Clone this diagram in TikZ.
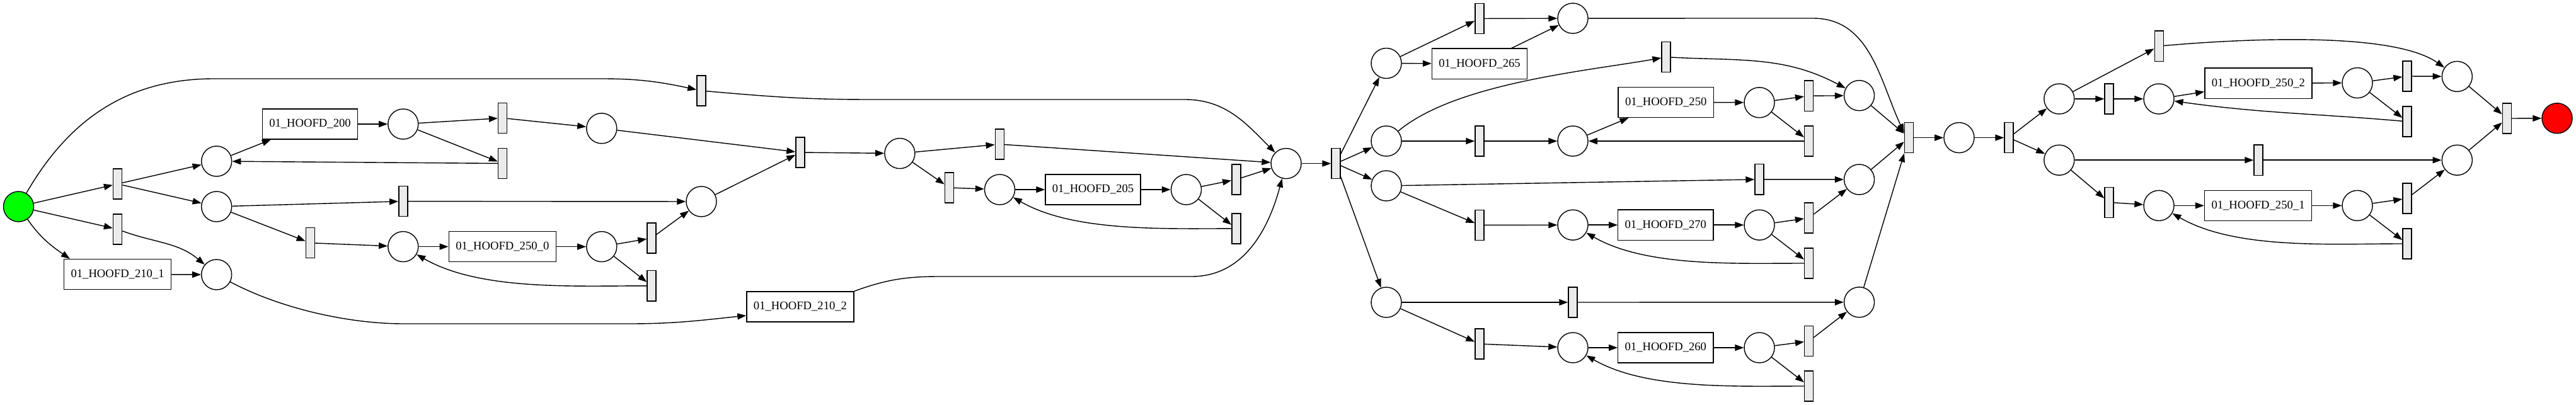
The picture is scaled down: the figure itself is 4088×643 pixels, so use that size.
\documentclass[tikz,border=0pt]{standalone}
\usepackage{fontspec}
\setmainfont{Liberation Serif}
\usetikzlibrary{arrows.meta}
\definecolor{srcgreen}{HTML}{00FF00}
\definecolor{snkred}{HTML}{FF0000}
\definecolor{trgrey}{HTML}{EBEBEB}
\tikzset{
  place/.style = {draw, circle, minimum size=4.8mm, inner sep=0pt, line width=0.4pt},
  trans/.style = {draw, fill=trgrey, minimum width=1.4mm, minimum height=4.8mm,
                  inner sep=0pt, line width=0.4pt},
  task/.style  = {draw, fill=white, minimum width=15.1mm, minimum height=4.8mm, inner sep=0pt,
                  line width=0.4pt, font=\fontsize{5.3}{6}\selectfont},
  wtask/.style = {task, minimum width=17mm},
  arc/.style   = {-{Triangle[length=1.4mm,width=1mm]}, line width=0.4pt},
}
\begin{document}
\begin{tikzpicture}[x=0.01cm, y=0.01cm]
  \useasboundingbox (0,0) rectangle (4088,-643);
  \node[place, fill=srcgreen] (src) at (29.5,-328) {};
  \node[trans] (t1) at (186.6,-292) {};
  \node[trans] (t2) at (186.6,-364) {};
  \node[wtask] (h2101) at (186.6,-435.7) {01\_HOOFD\_210\_1};
  \node[place] (p1) at (343.7,-256) {};
  \node[place] (p2) at (343.7,-328) {};
  \node[place] (p3) at (343.7,-436) {};
  \node[task] (h200) at (492,-197) {01\_HOOFD\_200};
  \node[place] (p4) at (639.8,-197) {};
  \node[trans] (t3) at (797.6,-187.4) {};
  \node[trans] (t4) at (797.6,-259.5) {};
  \node[place] (p5) at (954.8,-203.8) {};
  \node[trans] (t5) at (639.8,-319.6) {};
  \node[trans] (t6) at (492.4,-385.7) {};
  \node[place] (p6) at (639.8,-391.6) {};
  \node[wtask] (h2500) at (797.3,-391.6) {01\_HOOFD\_250\_0};
  \node[place] (p7) at (954.8,-391.6) {};
  \node[trans] (t7) at (1034,-378) {};
  \node[trans] (t8) at (1034,-453.8) {};
  \node[place] (p8) at (1113,-320) {};
  \node[trans] (t9) at (1113,-144) {};
  \node[trans] (t10) at (1270,-242) {};
  \node[wtask] (h2102) at (1270,-487) {01\_HOOFD\_210\_2};
  \node[place] (p9) at (1427.9,-243.6) {};
  \node[trans] (t11) at (1586.3,-229) {};
  \node[trans] (t12) at (1506.5,-298) {};
  \node[place] (p10) at (1586.5,-301) {};
  \node[task] (h205) at (1734.5,-301) {01\_HOOFD\_205};
  \node[place] (p11) at (1882.5,-301) {};
  \node[trans] (t13) at (1961.8,-285) {};
  \node[trans] (t14) at (1961.8,-362.9) {};
  \node[place] (p12) at (2041,-259.6) {};
  \node[trans] (t15) at (2120,-259.6) {};
  \node[place] (p13) at (2200,-100.5) {};
  \node[place] (p14) at (2200,-224) {};
  \node[place] (p15) at (2200,-295) {};
  \node[place] (p16) at (2200,-480) {};
  \node[trans] (t16) at (2347.8,-29.5) {};
  \node[task] (h265) at (2348,-101.2) {01\_HOOFD\_265};
  \node[place] (p17) at (2496,-29.1) {};
  \node[trans] (t17) at (2644,-90.6) {};
  \node[trans] (t18) at (2348,-224) {};
  \node[place] (p18) at (2496,-224) {};
  \node[task] (h250) at (2643.7,-162.4) {01\_HOOFD\_250};
  \node[place] (p19) at (2792,-162.8) {};
  \node[trans] (t19) at (2870.6,-152.2) {};
  \node[trans] (t20) at (2870.6,-224) {};
  \node[place] (p20) at (2950.5,-151.7) {};
  \node[trans] (t21) at (2792,-284.8) {};
  \node[place] (p21) at (2950.5,-285) {};
  \node[trans] (t22) at (2348,-357.4) {};
  \node[place] (p22) at (2496,-357.2) {};
  \node[task] (h270) at (2643.3,-357.2) {01\_HOOFD\_270};
  \node[place] (p23) at (2792,-357.2) {};
  \node[trans] (t23) at (2870.6,-346) {};
  \node[trans] (t24) at (2870.6,-418) {};
  \node[trans] (t25) at (2496,-480) {};
  \node[place] (p24) at (2950.5,-479.8) {};
  \node[trans] (t26) at (2348,-546) {};
  \node[place] (p25) at (2496,-552) {};
  \node[task] (h260) at (2643.3,-552) {01\_HOOFD\_260};
  \node[place] (p26) at (2792,-552) {};
  \node[trans] (t27) at (2870.6,-541.7) {};
  \node[trans] (t28) at (2870.6,-613) {};
  \node[trans] (t29) at (3029.4,-218.6) {};
  \node[place] (p27) at (3108.9,-218.6) {};
  \node[trans] (t30) at (3188,-218.6) {};
  \node[place] (p28) at (3267.8,-157) {};
  \node[place] (p29) at (3267.8,-254.2) {};
  \node[trans] (t31) at (3426.2,-73.2) {};
  \node[trans] (t32) at (3347,-157) {};
  \node[place] (p30) at (3426,-157) {};
  \node[wtask] (h2502) at (3583.9,-132.2) {01\_HOOFD\_250\_2};
  \node[place] (p31) at (3741,-131.6) {};
  \node[trans] (t33) at (3820,-121) {};
  \node[trans] (t34) at (3820,-193) {};
  \node[place] (p32) at (3899.3,-121.4) {};
  \node[trans] (t35) at (3978.4,-188) {};
  \node[place, fill=snkred] (snk) at (4058,-187.8) {};
  \node[trans] (t36) at (3584,-254.2) {};
  \node[place] (p33) at (3899.3,-254.2) {};
  \node[trans] (t37) at (3347,-321.3) {};
  \node[place] (p34) at (3426,-326.4) {};
  \node[wtask] (h2501) at (3583.5,-326.4) {01\_HOOFD\_250\_1};
  \node[place] (p35) at (3741,-326.4) {};
  \node[trans] (t38) at (3820,-315) {};
  \node[trans] (t39) at (3820,-387) {};
  \draw[arc] (src) -- (t1);
  \draw[arc] (src) -- (t2);
  \draw[arc] (src) to[out=-55,in=145] ([xshift=1mm]h2101.north west);
  \draw[arc] (src) to[out=60,in=180] (340,-125) -- (955,-125) to[out=0,in=168] (t9);
  \draw[arc] (t1) -- (p1);
  \draw[arc] (t1) -- (p2);
  \draw[arc] (t2) to[out=-20,in=140] (p3);
  \draw[arc] (h2101) -- (p3);
  \draw[arc] (p1) -- (h200);
  \draw[arc] (h200) -- (p4);
  \draw[arc] (p4) -- (t3);
  \draw[arc] (p4) -- (t4);
  \draw[arc] (t3) -- (p5);
  \draw[arc] (t4) -- (p1);
  \draw[arc] (p5) -- (t10);
  \draw[arc] (p2) -- (t5);
  \draw[arc] (t5) -- (p8);
  \draw[arc] (p2) -- (t6);
  \draw[arc] (t6) -- (p6);
  \draw[arc] (p6) -- (h2500);
  \draw[arc] (h2500) -- (p7);
  \draw[arc] (p7) -- (t7);
  \draw[arc] (p7) -- (t8);
  \draw[arc] (t7) -- (p8);
  \draw[arc] (t8) to[out=180,in=-30,looseness=0.8] (p6);
  \draw[arc] (p3) to[out=-28,in=180,looseness=0.8] (640,-514) -- (1000,-514)
    to[out=0,in=186] ([yshift=-1.4mm]h2102.west);
  \draw[arc] (h2102.north east) to[out=20,in=180] (1491,-439) -- (1891,-439)
    to[out=0,in=-105] (p12);
  \draw[arc] (t9) to[out=-5,in=180] (1380,-158) -- (1880,-158) to[out=0,in=135] (p12);
  \draw[arc] (p8) -- (t10);
  \draw[arc] (t10) -- (p9);
  \draw[arc] (p9) -- (t11);
  \draw[arc] (p9) -- (t12);
  \draw[arc] (t11) -- (p12);
  \draw[arc] (t12) -- (p10);
  \draw[arc] (p10) -- (h205);
  \draw[arc] (h205) -- (p11);
  \draw[arc] (p11) -- (t13);
  \draw[arc] (p11) -- (t14);
  \draw[arc] (t13) -- (p12);
  \draw[arc] (t14) to[out=180,in=-30,looseness=0.8] (p10);
  \draw[arc] (p12) -- (t15);
  \draw[arc] (t15) -- (p13);
  \draw[arc] (t15) -- (p14);
  \draw[arc] (t15) -- (p15);
  \draw[arc] (t15) -- (p16);
  \draw[arc] (p13) -- (t16);
  \draw[arc] (p13) -- (h265);
  \draw[arc] (t16) -- (p17);
  \draw[arc] (h265) -- (p17);
  \draw[arc] (p17) -- (2877,-29) to[out=0,in=115] ([yshift=0.8mm]t29.west);
  \draw[arc] (p14) to[out=40,in=190,looseness=0.7] (t17);
  \draw[arc] (t17) to[out=-3,in=152] (p20);
  \draw[arc] (p14) -- (t18);
  \draw[arc] (t18) -- (p18);
  \draw[arc] (p18) -- (h250);
  \draw[arc] (h250) -- (p19);
  \draw[arc] (p19) -- (t19);
  \draw[arc] (p19) -- (t20);
  \draw[arc] (t19) -- (p20);
  \draw[arc] (t20) -- (p18);
  \draw[arc] (p20) -- (t29);
  \draw[arc] (p15) -- (t21);
  \draw[arc] (t21) -- (p21);
  \draw[arc] (p21) -- (t29);
  \draw[arc] (p15) -- (t22);
  \draw[arc] (t22) -- (p22);
  \draw[arc] (p22) -- (h270);
  \draw[arc] (h270) -- (p23);
  \draw[arc] (p23) -- (t23);
  \draw[arc] (p23) -- (t24);
  \draw[arc] (t23) -- (p21);
  \draw[arc] (t24) to[out=180,in=-30,looseness=0.8] (p22);
  \draw[arc] (p16) -- (t25);
  \draw[arc] (t25) -- (p24);
  \draw[arc] (p24) -- (t29);
  \draw[arc] (p16) -- (t26);
  \draw[arc] (t26) -- (p25);
  \draw[arc] (p25) -- (h260);
  \draw[arc] (h260) -- (p26);
  \draw[arc] (p26) -- (t27);
  \draw[arc] (p26) -- (t28);
  \draw[arc] (t27) -- (p24);
  \draw[arc] (t28) to[out=180,in=-30,looseness=0.8] (p25);
  \draw[arc] (t29) -- (p27);
  \draw[arc] (p27) -- (t30);
  \draw[arc] (t30) -- (p28);
  \draw[arc] (t30) -- (p29);
  \draw[arc] (p28) -- (t31);
  \draw[arc] (p28) -- (t32);
  \draw[arc] (t32) -- (p30);
  \draw[arc] (p30) -- (h2502);
  \draw[arc] (h2502) -- (p31);
  \draw[arc] (p31) -- (t33);
  \draw[arc] (p31) -- (t34);
  \draw[arc] (t33) -- (p32);
  \draw[arc] (t34) to[out=175,in=-8] (p30);
  \draw[arc] (t31) to[out=5,in=145,looseness=0.6] (p32);
  \draw[arc] (p32) -- (t35);
  \draw[arc] (p29) -- (t36);
  \draw[arc] (t36) -- (p33);
  \draw[arc] (p33) -- (t35);
  \draw[arc] (p29) -- (t37);
  \draw[arc] (t37) -- (p34);
  \draw[arc] (p34) -- (h2501);
  \draw[arc] (h2501) -- (p35);
  \draw[arc] (p35) -- (t38);
  \draw[arc] (p35) -- (t39);
  \draw[arc] (t38) -- (p33);
  \draw[arc] (t39) to[out=180,in=-30,looseness=0.8] (p34);
  \draw[arc] (t35) -- (snk);
\end{tikzpicture}
\end{document}
